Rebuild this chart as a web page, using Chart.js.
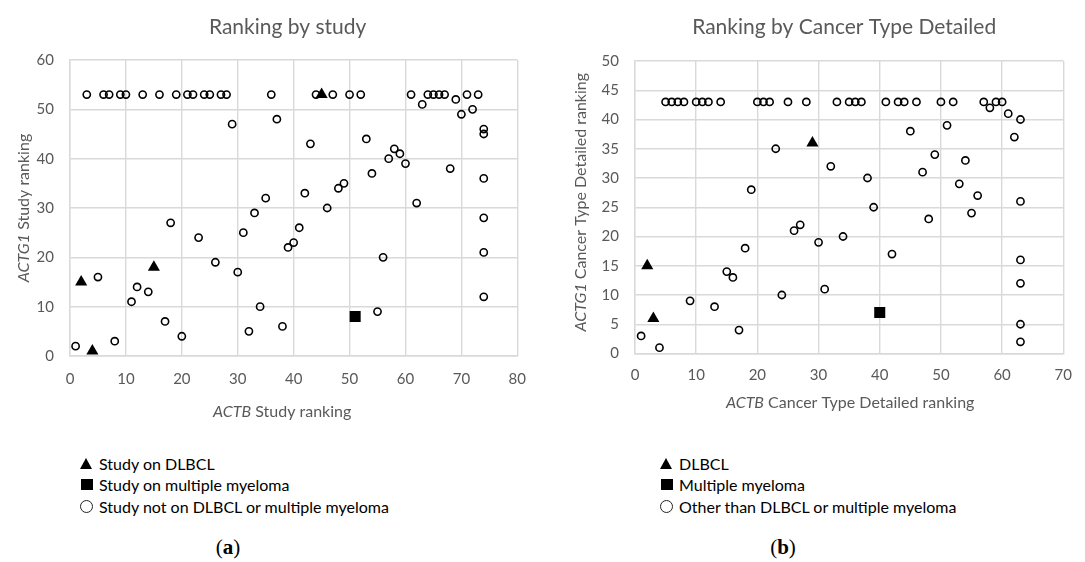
<!DOCTYPE html>
<html>
<head>
<meta charset="utf-8">
<title>ACTB vs ACTG1 ranking</title>
<script src="https://cdn.jsdelivr.net/npm/chart.js@4/dist/chart.umd.min.js"></script>
<style>
  html, body { margin: 0; padding: 0; background: #fff; }
  body { width: 1085px; height: 562px; position: relative; overflow: hidden; font-family: Lato, "Open Sans", sans-serif; }
  canvas { position: absolute; top: 0; }
  #chartA { left: 0; }
  #chartB { left: 555px; }
  .legend { position: absolute; font-size: 16px; color: #000; }
  .row { position: absolute; left: 0; height: 20px; line-height: 20px; white-space: nowrap; }
  .row span.txt { position: absolute; left: 19px; top: 0; }
  .sym { position: absolute; left: 0; }
  .tri { top: 4px; width: 0; height: 0; border-left: 6.5px solid transparent; border-right: 6.5px solid transparent; border-bottom: 11px solid #000; }
  .sq { top: 4px; left: 0.5px; width: 12px; height: 11px; background: #000; }
  .circ { top: 3.5px; width: 13px; height: 13px; border: 1.2px solid #222; border-radius: 50%; box-sizing: border-box; }
  .cap { position: absolute; font-family: "Liberation Serif", "DejaVu Serif", serif; font-size: 21px; color: #000; transform: translateX(-50%); }
  .cap b { font-weight: bold; }
</style>
</head>
<body>
<canvas id="chartA" width="540" height="430"></canvas>
<canvas id="chartB" width="530" height="430"></canvas>

<div class="legend" style="left:80px; top:454px;">
  <div class="row" style="top:0px;"><span class="sym tri"></span><span class="txt">Study on DLBCL</span></div>
  <div class="row" style="top:21px;"><span class="sym sq"></span><span class="txt">Study on multiple myeloma</span></div>
  <div class="row" style="top:42.5px;"><span class="sym circ"></span><span class="txt">Study not on DLBCL or multiple myeloma</span></div>
</div>
<div class="legend" style="left:660px; top:454px;">
  <div class="row" style="top:0px;"><span class="sym tri"></span><span class="txt">DLBCL</span></div>
  <div class="row" style="top:21px;"><span class="sym sq"></span><span class="txt">Multiple myeloma</span></div>
  <div class="row" style="top:42.5px;"><span class="sym circ"></span><span class="txt">Other than DLBCL or multiple myeloma</span></div>
</div>
<div class="cap" style="left:228px; top:535px;">(<b>a</b>)</div>
<div class="cap" style="left:783px; top:535px;">(<b>b</b>)</div>

<script>
// ---- Panel (a): ranking by study ----
const studyDlbclX = [2, 4, 15, 45];
const studyDlbclY = [15, 1, 18, 53];
const studyMyelomaX = [51];
const studyMyelomaY = [8];
const studyOtherX = [
  3, 6, 7, 9, 10, 13, 16, 19, 21, 22, 24, 25, 27, 28, 36, 44, 47, 50, 52, 61, 64, 65, 66, 67, 71, 73,
  1, 5, 8, 11, 12, 14, 17, 18, 20, 23, 26, 29, 30, 31, 32, 33, 34, 35, 37, 38, 39, 40, 41, 42, 43,
  46, 48, 49, 53, 54, 55, 56, 57, 58, 59, 60, 62, 63, 68, 69, 70, 72, 74, 74, 74, 74, 74, 74
];
const studyOtherY = [
  53, 53, 53, 53, 53, 53, 53, 53, 53, 53, 53, 53, 53, 53, 53, 53, 53, 53, 53, 53, 53, 53, 53, 53, 53, 53,
  2, 16, 3, 11, 14, 13, 7, 27, 4, 24, 19, 47, 17, 25, 5, 29, 10, 32, 48, 6, 22, 23, 26, 33, 43,
  30, 34, 35, 44, 37, 9, 20, 40, 42, 41, 39, 31, 51, 38, 52, 49, 50, 46, 45, 36, 28, 21, 12
];
const studyXTicks = [0, 80, 10];   // min, max, step
const studyYTicks = [0, 60, 10];

// ---- Panel (b): ranking by cancer type detailed ----
const typeDlbclX = [2, 3, 29];
const typeDlbclY = [15, 6, 36];
const typeMyelomaX = [40];
const typeMyelomaY = [7];
const typeOtherX = [
  5, 6, 7, 8, 10, 11, 12, 14, 20, 21, 22, 25, 28, 33, 35, 36, 37, 41, 43, 44, 46, 50, 52, 57, 59, 60,
  1, 4, 9, 13, 15, 16, 17, 18, 19, 23, 24, 26, 27, 30, 31, 32, 34, 38, 39, 42, 45, 47, 48, 49,
  51, 53, 54, 55, 56, 58, 61, 62, 63, 63, 63, 63, 63, 63
];
const typeOtherY = [
  43, 43, 43, 43, 43, 43, 43, 43, 43, 43, 43, 43, 43, 43, 43, 43, 43, 43, 43, 43, 43, 43, 43, 43, 43, 43,
  3, 1, 9, 8, 14, 13, 4, 18, 28, 35, 10, 21, 22, 19, 11, 32, 20, 30, 25, 17, 38, 31, 23, 34,
  39, 29, 33, 24, 27, 42, 41, 37, 40, 26, 16, 12, 5, 2
];
const typeXTicks = [0, 70, 10];
const typeYTicks = [0, 50, 5];

const GRID = '#d9d9d9';
const TEXT = '#595959';
const FONT = 'Lato, "Open Sans", sans-serif';

function pts(xs, ys) { return xs.map((x, i) => ({ x: x, y: ys[i] })); }

// Draws the panel title and the axis titles (gene names in italics)
const panelText = {
  id: 'panelText',
  afterDraw(chart, args, o) {
    const ctx = chart.ctx;
    const a = chart.chartArea;
    const cx = (a.left + a.right) / 2;
    const cy = (a.top + a.bottom) / 2;
    ctx.save();
    ctx.fillStyle = TEXT;
    ctx.textBaseline = 'alphabetic';
    ctx.textAlign = 'center';
    ctx.font = '21px ' + FONT;
    ctx.fillText(o.title, cx + o.titleDx, o.titleY);

    const rich = (segs, x, y) => {
      let total = 0;
      segs.forEach(s => {
        ctx.font = (s.it ? 'italic ' : '') + '16px ' + FONT;
        s.w = ctx.measureText(s.t).width;
        total += s.w;
      });
      let px = x - total / 2;
      ctx.textAlign = 'left';
      segs.forEach(s => {
        ctx.font = (s.it ? 'italic ' : '') + '16px ' + FONT;
        ctx.fillText(s.t, px, y);
        px += s.w;
      });
    };
    rich(o.xTitle, cx + o.xDx, o.xY);
    ctx.translate(o.yX, cy + o.yDy);
    ctx.rotate(-Math.PI / 2);
    rich(o.yTitle, 0, 0);
    ctx.restore();
  }
};

function makeChart(id, data, ticksX, ticksY, text, pad, axisW, axisH, xPad) {
  const common = {
    showLine: false,
    borderColor: '#000',
  };
  return new Chart(document.getElementById(id), {
    type: 'scatter',
    data: {
      datasets: [
        Object.assign({}, common, { label: 'DLBCL', data: data.dlbcl, pointStyle: 'triangle', pointRadius: 7, backgroundColor: '#000', borderWidth: 0 }),
        Object.assign({}, common, { label: 'Multiple myeloma', data: data.myeloma, pointStyle: 'rect', pointRadius: 7.8, backgroundColor: '#000', borderWidth: 0 }),
        Object.assign({}, common, { label: 'Other', data: data.other, pointStyle: 'circle', pointRadius: 3.6, backgroundColor: 'rgba(0,0,0,0)', borderWidth: 1.6 })
      ]
    },
    options: {
      responsive: false,
      animation: false,
      events: [],
      layout: { padding: pad },
      plugins: {
        legend: { display: false },
        tooltip: { enabled: false },
        title: { display: false },
        panelText: text
      },
      scales: {
        x: {
          type: 'linear',
          min: ticksX[0], max: ticksX[1],
          ticks: { stepSize: ticksX[2], color: TEXT, font: { family: FONT, size: 15 }, padding: xPad },
          grid: { color: GRID, lineWidth: 1.4, drawTicks: false },
          border: { color: GRID, width: 1.4 },
          afterFit(s) { s.height = axisH; }
        },
        y: {
          type: 'linear',
          min: ticksY[0], max: ticksY[1],
          ticks: { stepSize: ticksY[2], color: TEXT, font: { family: FONT, size: 15 }, padding: 16 },
          grid: { color: GRID, lineWidth: 1.4, drawTicks: false },
          border: { color: GRID, width: 1.4 },
          afterFit(s) { s.width = axisW; }
        }
      }
    },
    plugins: [panelText]
  });
}

makeChart('chartA',
  { dlbcl: pts(studyDlbclX, studyDlbclY), myeloma: pts(studyMyelomaX, studyMyelomaY), other: pts(studyOtherX, studyOtherY) },
  studyXTicks, studyYTicks,
  {
    title: 'Ranking by study', titleDx: -6, titleY: 33.5,
    xTitle: [{ t: 'ACTB', it: true }, { t: ' Study ranking' }], xDx: -11.5, xY: 417,
    yTitle: [{ t: 'ACTG1', it: true }, { t: ' Study ranking' }], yX: 29, yDy: 0
  },
  { top: 60, right: 20, left: 0, bottom: 0 }, 70, 74, 14
);

makeChart('chartB',
  { dlbcl: pts(typeDlbclX, typeDlbclY), myeloma: pts(typeMyelomaX, typeMyelomaY), other: pts(typeOtherX, typeOtherY) },
  typeXTicks, typeYTicks,
  {
    title: 'Ranking by Cancer Type Detailed', titleDx: -5, titleY: 33.5,
    xTitle: [{ t: 'ACTB', it: true }, { t: ' Cancer Type Detailed ranking' }], xDx: 1, xY: 408,
    yTitle: [{ t: 'ACTG1', it: true }, { t: ' Cancer Type Detailed ranking' }], yX: 31, yDy: -5
  },
  { top: 61, right: 10, left: 0, bottom: 0 }, 80, 76.5, 13
);
</script>
</body>
</html>
